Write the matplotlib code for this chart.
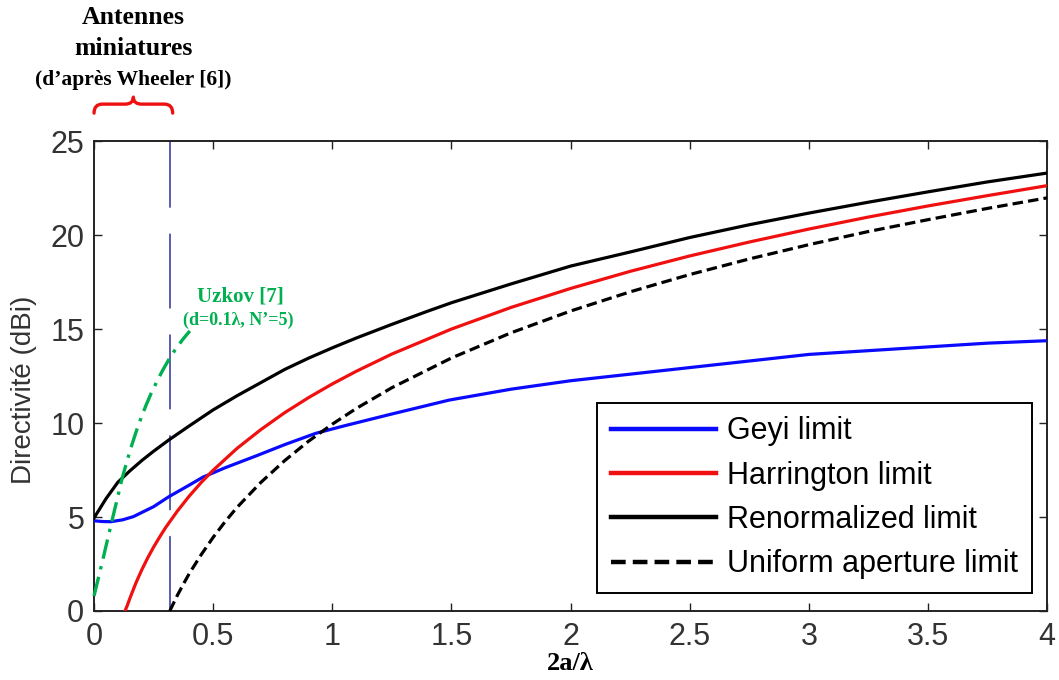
import numpy as np
import matplotlib
matplotlib.use("Agg")
import matplotlib.pyplot as plt
from matplotlib.path import Path
from matplotlib.patches import PathPatch
import matplotlib.transforms as mtransforms

# values
geyi_x = [0.0, 0.035, 0.07, 0.12, 0.165, 0.25, 0.314, 0.4, 0.457, 0.55, 0.68, 0.8, 0.93, 1.05,
          1.24, 1.49, 1.75, 2.0, 2.25, 2.5, 2.75, 3.0, 3.25, 3.5, 3.75, 4.0]
geyi_y = [4.8, 4.76, 4.75, 4.85, 5.02, 5.55, 6.08, 6.7, 7.12, 7.62, 8.25, 8.85, 9.45, 9.85,
          10.45, 11.22, 11.8, 12.25, 12.6, 12.95, 13.3, 13.65, 13.85, 14.05, 14.25, 14.38]

harr_x = [0.13, 0.14, 0.15, 0.175, 0.2, 0.225, 0.25, 0.275, 0.3, 0.35, 0.4, 0.45, 0.5, 0.6,
          0.7, 0.8, 0.9, 1.0, 1.1, 1.25, 1.5, 1.75, 2.0, 2.25, 2.5, 2.75, 3.0, 3.25, 3.5,
          3.75, 4.0]
harr_y = [0.0, 0.31, 0.66, 1.47, 2.18, 2.82, 3.4, 3.93, 4.43, 5.32, 6.12, 6.84, 7.49, 8.65,
          9.65, 10.55, 11.35, 12.08, 12.75, 13.67, 15.0, 16.15, 17.16, 18.07, 18.89, 19.63,
          20.32, 20.96, 21.55, 22.1, 22.63]

renorm_x = [0.0, 0.05, 0.1, 0.15, 0.2, 0.25, 0.314, 0.4, 0.5, 0.6, 0.7, 0.8, 0.9, 1.0, 1.1,
            1.25, 1.4, 1.5, 1.75, 2.0, 2.25, 2.5, 2.75, 3.0, 3.25, 3.5, 3.75, 4.0]
renorm_y = [4.95, 5.97, 6.85, 7.45, 8.0, 8.5, 9.1, 9.85, 10.7, 11.45, 12.15, 12.85, 13.45,
            14.0, 14.52, 15.25, 15.95, 16.4, 17.4, 18.35, 19.1, 19.87, 20.55, 21.17, 21.75,
            22.3, 22.83, 23.3]

unif_x = [0.318, 0.325, 0.335, 0.35, 0.375, 0.4, 0.45, 0.5, 0.55, 0.6, 0.7, 0.8, 0.9, 1.0,
          1.1, 1.25, 1.5, 1.75, 2.0, 2.25, 2.5, 2.75, 3.0, 3.25, 3.5, 3.75, 4.0]
unif_y = [0.0, 0.19, 0.45, 0.84, 1.43, 2.0, 3.0, 3.92, 4.75, 5.51, 6.84, 8.0, 9.03, 9.94,
          10.77, 11.88, 13.46, 14.8, 15.96, 16.98, 17.9, 18.73, 19.49, 20.19, 20.82, 21.42,
          21.98]

uzkov_x = [0.0, 0.02, 0.04, 0.06, 0.08, 0.1, 0.116, 0.14, 0.16, 0.18, 0.2, 0.22, 0.24, 0.27,
           0.29, 0.314, 0.34, 0.37, 0.402]
uzkov_y = [0.8, 1.85, 2.9, 3.98, 5.05, 6.1, 6.97, 8.05, 8.89, 9.66, 10.36, 11.0, 11.59, 12.37,
           12.85, 13.38, 13.89, 14.41, 14.9]

wheeler_x = 0.318   # 2a/lambda = 1/pi (ka = 1)

labels = ["Geyi limit", "Harrington limit", "Renormalized limit", "Uniform aperture limit"]
xticks = [0, 0.5, 1, 1.5, 2, 2.5, 3, 3.5, 4]
xticklabels = ["0", "0.5", "1", "1.5", "2", "2.5", "3", "3.5", "4"]
yticks = [0, 5, 10, 15, 20, 25]

plt.rcParams["font.family"] = ["Liberation Sans", "DejaVu Sans"]
serif = ["Liberation Serif", "DejaVu Serif"]
tick_col = "#333333"

fig = plt.figure(figsize=(10.59, 6.80), dpi=100)
ax = fig.add_axes([0.0888, 0.1015, 0.9000, 0.691])

# Wheeler limit vertical line (drawn bottom to top so the dashes start at y=0)
ax.plot([wheeler_x, wheeler_x], [0, 25], color="#30309a", lw=1.1,
        linestyle=(0, (49, 17)), zorder=2)

ax.plot(geyi_x, geyi_y, color="#0a0aff", lw=2.3, label=labels[0], zorder=3)
ax.plot(harr_x, harr_y, color="#f01010", lw=2.3, label=labels[1], zorder=3)
ax.plot(renorm_x, renorm_y, color="black", lw=2.3, label=labels[2], zorder=3)
ax.plot(unif_x, unif_y, color="black", lw=2.3, linestyle=(0, (3.3, 1.6)),
        label=labels[3], zorder=3)
ax.plot(uzkov_x, uzkov_y, color="#00b050", lw=2.4, linestyle=(0, (5.9, 2.3, 1.0, 2.3)),
        zorder=4, clip_on=False)

ax.set_xlim(0, 4)
ax.set_ylim(0, 25)
ax.set_xticks(xticks)
ax.set_xticklabels(xticklabels)
ax.set_yticks(yticks)
ax.tick_params(direction="in", length=6, width=1, top=True, right=True,
               labelsize=22, labelcolor=tick_col, color="#222222")
ax.tick_params(axis="x", pad=8)
ax.tick_params(axis="y", pad=7)
for s in ax.spines.values():
    s.set_linewidth(1.4)
    s.set_color("#222222")

ax.set_ylabel("Directivité (dBi)", fontsize=20, color=tick_col)
ax.yaxis.set_label_coords(-0.0598, 0.47)
ax.set_xlabel("2a/λ", fontsize=19, fontweight="bold", family=serif, labelpad=0)

leg = ax.legend(loc="lower right", bbox_to_anchor=(0.984, 0.038), borderaxespad=0,
                fontsize=22, handlelength=3.45, handletextpad=0.35, labelspacing=0.47,
                borderpad=0.45, fancybox=False, framealpha=1, edgecolor="black")
leg.get_frame().set_linewidth(1.4)
for h in leg.get_lines():
    h.set_linewidth(3.2)

# red curly brace above the axes, from 0 to the Wheeler line
trans = mtransforms.blended_transform_factory(ax.transData, ax.transAxes)
x0, x1 = 0.0, wheeler_x + 0.012
xc = (x0 + x1) / 2
q = 0.035
yb, ym, yt = 1.0596, 1.0787, 1.0936
verts = [(x0, yb), (x0, ym), (x0 + q, ym), (xc - q, ym), (xc, ym), (xc, yt),
         (xc, ym), (xc + q, ym), (x1 - q, ym), (x1, ym), (x1, yb)]
codes = [Path.MOVETO, Path.CURVE3, Path.CURVE3, Path.LINETO, Path.CURVE3, Path.CURVE3,
         Path.CURVE3, Path.CURVE3, Path.LINETO, Path.CURVE3, Path.CURVE3]
brace = PathPatch(Path(verts, codes), facecolor="none", edgecolor="#ee1111", lw=2.4,
                  transform=trans, clip_on=False, capstyle="round", joinstyle="round")
ax.add_patch(brace)

ax.text(xc, 1.262, "Antennes", transform=trans, ha="center", va="center",
        fontsize=18.5, fontweight="bold", family=serif)
ax.text(xc, 1.198, "miniatures", transform=trans, ha="center", va="center",
        fontsize=18.5, fontweight="bold", family=serif)
ax.text(xc, 1.130, "(d’après Wheeler [6])", transform=trans, ha="center", va="center",
        fontsize=15.5, fontweight="bold", family=serif)

ax.text(0.613, 16.75, "Uzkov [7]", ha="center", va="center", fontsize=15,
        fontweight="bold", family=serif, color="#00b050")
ax.text(0.604, 15.45, "(d=0.1λ, N’=5)", ha="center", va="center", fontsize=13,
        fontweight="bold", family=serif, color="#00b050")

fig.savefig("out.png", dpi=100)
